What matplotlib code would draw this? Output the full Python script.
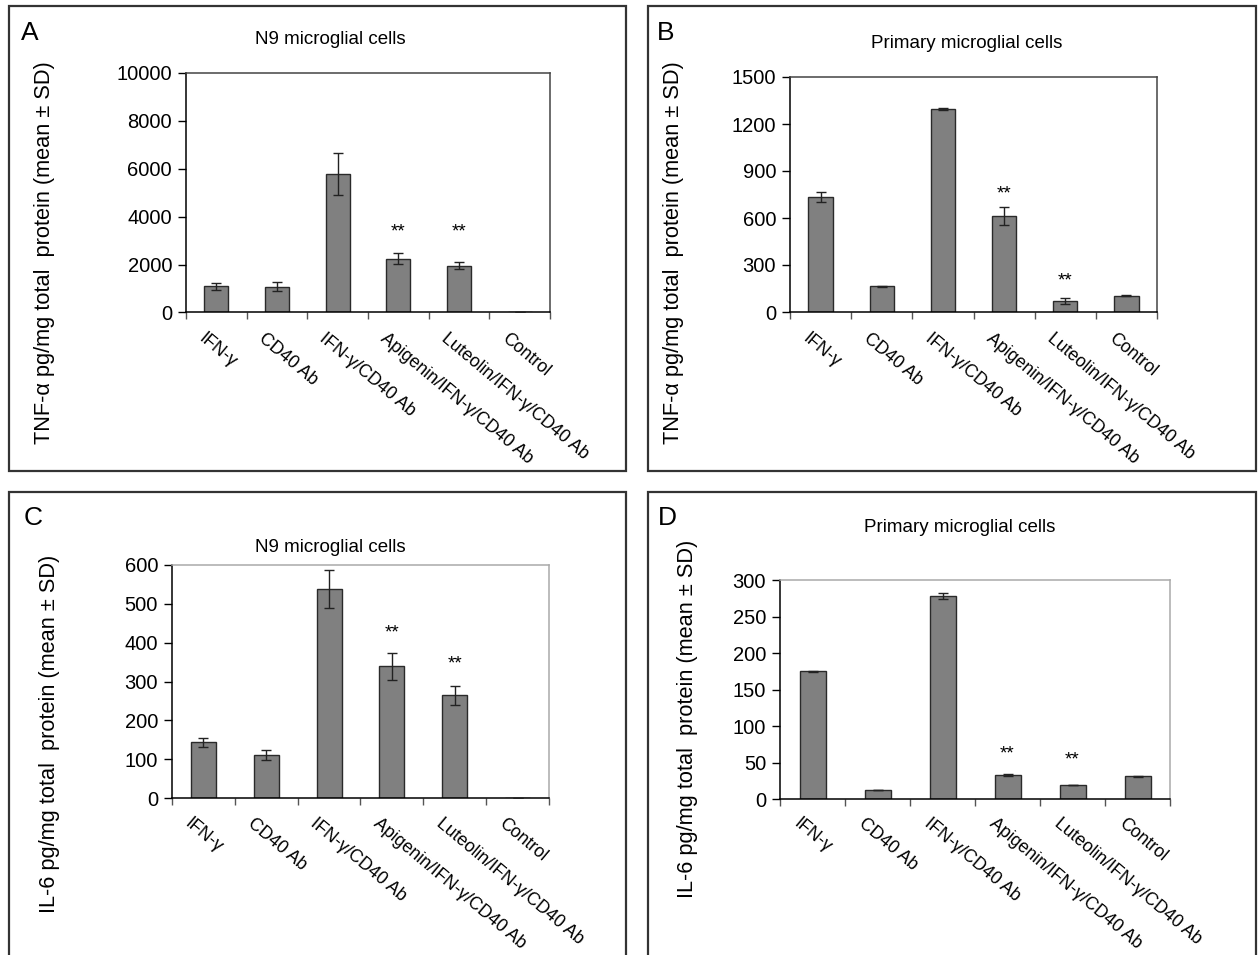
import numpy as np
import matplotlib.pyplot as plt
from matplotlib.patches import Rectangle

plt.rcParams['font.family'] = ['Liberation Sans', 'DejaVu Sans']

W, H = 1260, 955

# DATA
groups = ["IFN-\u03b3", "CD40 Ab", "IFN-\u03b3/CD40 Ab", "Apigenin/IFN-\u03b3/CD40 Ab",
          "Luteolin/IFN-\u03b3/CD40 Ab", "Control"]

tnf_n9 = [1100, 1080, 5770, 2250, 1950, 10]
tnf_n9_sd = [140, 180, 880, 240, 150, 0]
tnf_n9_star = [None, None, None, 3370, 3370, None]

tnf_pri = [734, 164, 1295, 612, 70, 105]
tnf_pri_sd = [34, 3, 8, 57, 20, 5]
tnf_pri_star = [None, None, None, 751, 196, None]

il6_n9 = [143, 110, 537, 339, 264, 0.5]
il6_n9_sd = [12, 13, 49, 34, 25, 0]
il6_n9_star = [None, None, None, 425, 344, None]

il6_pri = [175, 12.5, 278, 33, 19, 31]
il6_pri_sd = [1, 0.5, 4.5, 1, 0.5, 0.5]
il6_pri_star = [None, None, None, 62, 54, None]

tnf_label = "TNF-\u03b1 pg/mg total  protein (mean \u00b1 SD)"
il6_label = "IL-6 pg/mg total  protein (mean \u00b1 SD)"

fig = plt.figure(figsize=(W / 100, H / 100), dpi=100)


def px_axes(left, top, right, bottom):
    return fig.add_axes([left / W, 1 - bottom / H, (right - left) / W, (bottom - top) / H])


def box(x0, y0, x1, y1):
    fig.patches.append(Rectangle((x0 / W, 1 - y1 / H), (x1 - x0) / W, (y1 - y0) / H,
                                 transform=fig.transFigure, fill=False,
                                 edgecolor='#333333', linewidth=1.6))


def panel(ax, vals, sds, stars, ymax, step, frame_col):
    x = np.arange(len(vals))
    ax.bar(x, vals, width=0.4, color='#808080', edgecolor='#2a2a2a', linewidth=1.0, zorder=2)
    ax.errorbar(x, vals, yerr=sds, fmt='none', ecolor='#222222', elinewidth=1.0,
                capsize=3.5, capthick=1.0, zorder=3)
    for i, s in enumerate(stars):
        if s is not None:
            ax.text(i, s, "**", ha='center', va='center', fontsize=13.5)
    ax.set_xlim(-0.5, len(vals) - 0.5)
    ax.set_ylim(0, ymax)
    ax.set_yticks(np.arange(0, ymax + step / 2, step))
    ax.set_xticks(np.arange(-0.5, len(vals), 1.0))
    ax.set_xticklabels([])
    ax.tick_params(axis='y', direction='out', length=6, width=1, labelsize=14.5, pad=4)
    ax.tick_params(axis='x', direction='out', length=5, width=1, color='#555555')
    for side in ['left', 'bottom']:
        ax.spines[side].set_color('black')
        ax.spines[side].set_linewidth(1.1)
    for side in ['top', 'right']:
        ax.spines[side].set_color(frame_col)
        ax.spines[side].set_linewidth(1.1)
    for i, g in enumerate(groups):
        ax.text(i - 0.17, -0.075, g, transform=ax.get_xaxis_transform(), rotation=-40,
                rotation_mode='anchor', ha='left', va='top', fontsize=12.8)


# panel frames
box(9, 6, 626, 471)
box(648, 6, 1256, 471)
box(9, 492, 626, 965)
box(648, 492, 1256, 965)

axA = px_axes(186, 73, 550, 312.5)
panel(axA, tnf_n9, tnf_n9_sd, tnf_n9_star, 10000, 2000, '#444444')
axB = px_axes(790, 77, 1157, 312)
panel(axB, tnf_pri, tnf_pri_sd, tnf_pri_star, 1500, 300, '#444444')
axC = px_axes(172, 565, 549, 798)
panel(axC, il6_n9, il6_n9_sd, il6_n9_star, 600, 100, '#aaaaaa')
axD = px_axes(780, 580, 1170, 799)
panel(axD, il6_pri, il6_pri_sd, il6_pri_star, 300, 50, '#aaaaaa')

# letters, titles, y labels
for lab, x, y in [("A", 21, 21), ("B", 657, 21), ("C", 24, 506), ("D", 658, 506)]:
    fig.text(x / W, 1 - y / H, lab, fontsize=19, ha='left', va='top')

for t, x, y in [("N9 microglial cells", 330, 40), ("Primary microglial cells", 967, 44),
                ("N9 microglial cells", 330, 548), ("Primary microglial cells", 960, 528)]:
    fig.text(x / W, 1 - y / H, t, fontsize=13.5, ha='center', va='center')

for t, x, y in [(tnf_label, 45, 253), (tnf_label, 673, 253),
                (il6_label, 50, 734), (il6_label, 688, 719)]:
    fig.text(x / W, 1 - y / H, t, fontsize=15.7, rotation=90, ha='center', va='center')

fig.savefig("out.png", dpi=100)
